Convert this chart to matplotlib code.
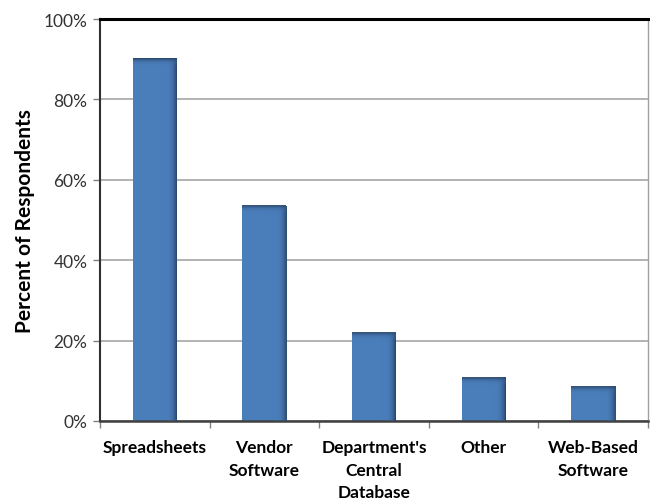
import numpy as np
import matplotlib.pyplot as plt
from matplotlib.colors import LinearSegmentedColormap

categories = ['Spreadsheets', 'Vendor\nSoftware', "Department's\nCentral\nDatabase",
              'Other', 'Web-Based\nSoftware']
percent = [90.2, 53.4, 21.8, 10.7, 8.5]
yticks = [0, 20, 40, 60, 80, 100]

plt.rcParams['font.family'] = ['Lato', 'DejaVu Sans']

fig = plt.figure(figsize=(6.5, 5.02), dpi=100)
ax = fig.add_axes([0.1538, 0.1594, 0.8432, 0.8006])

x = np.arange(len(categories))
width = 0.4
bars = ax.bar(x, percent, width=width, color='#4a7ebb', zorder=2)

# fake the bevel shading: darker towards the right edge and the top
cmap_r = LinearSegmentedColormap.from_list('r', [(0.29, 0.49, 0.73, 0), (0.15, 0.26, 0.40, 1)])
cmap_t = LinearSegmentedColormap.from_list('t', [(0.29, 0.49, 0.73, 0), (0.15, 0.26, 0.40, 1)])
for b in bars:
    x0, w, h = b.get_x(), b.get_width(), b.get_height()
    grad = np.linspace(0, 1, 50)[None, :] ** 2.5
    ax.imshow(grad, extent=(x0 + w * 0.6, x0 + w, 0, h), aspect='auto', cmap=cmap_r,
              vmin=0, vmax=1, zorder=3, interpolation='bilinear')
    gv = np.linspace(0, 1, 50)[:, None] ** 2
    ax.imshow(gv, extent=(x0, x0 + w, h - 2.5, h), aspect='auto', cmap=cmap_t,
              vmin=0, vmax=1, zorder=3, origin='lower', interpolation='bilinear')

ax.set_xlim(-0.5, len(categories) - 0.5)
ax.set_ylim(0, 100)
ax.set_yticks(yticks)
ax.set_yticklabels([f'{v}%' for v in yticks], fontsize=12.5, color='#333333')
ax.set_xticks(x)
ax.set_xticklabels(categories, fontsize=12.5, fontweight='bold', linespacing=1.5,
                   va='top')
ax.set_xticks(np.arange(len(categories) + 1) - 0.5, minor=True)
ax.tick_params(axis='x', which='major', length=0, pad=13)
ax.tick_params(axis='x', which='minor', length=5, width=1, color='#808080', direction='out')
ax.tick_params(axis='y', length=5, width=1, color='#808080', direction='out', pad=4)

ax.yaxis.grid(True, color='#a6a6a6', linewidth=1.2, zorder=0)
ax.set_axisbelow(True)

ax.spines['top'].set_linewidth(2.2)
ax.spines['top'].set_color('black')
ax.spines['right'].set_color('#a0a0a0')
ax.spines['right'].set_linewidth(1)
ax.spines['left'].set_color('#303030')
ax.spines['left'].set_linewidth(1.5)
ax.spines['bottom'].set_color('#404040')
ax.spines['bottom'].set_linewidth(1.8)

ax.set_ylabel('Percent of Respondents', fontsize=15, fontweight='bold', labelpad=6)

fig.savefig('out.png', dpi=100)
